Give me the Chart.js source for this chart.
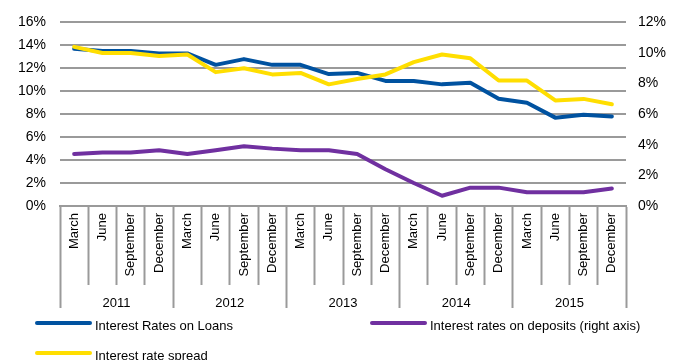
<!DOCTYPE html>
<html>
<head>
<meta charset="utf-8">
<script src="https://cdn.jsdelivr.net/npm/chart.js@4/dist/chart.umd.min.js"></script>
<style>
  html, body { margin: 0; padding: 0; background: #fff; }
  #wrap { width: 676px; height: 360px; position: relative; }
</style>
</head>
<body>
<div id="wrap"><canvas id="rates"></canvas></div>
<script>
const quarters = [
  "March", "June", "September", "December",
  "March", "June", "September", "December",
  "March", "June", "September", "December",
  "March", "June", "September", "December",
  "March", "June", "September", "December",
];
const years = ["2011", "2012", "2013", "2014", "2015"];

// left axis, %
const loans = [
  13.7, 13.5, 13.5, 13.3, 13.3, 12.3, 12.8, 12.3, 12.3, 11.5,
  11.6, 10.9, 10.9, 10.6, 10.75, 9.35, 9.0, 7.7, 7.95, 7.8,
];
// right axis, %
const deposits = [
  3.4, 3.5, 3.5, 3.65, 3.4, 3.65, 3.9, 3.75, 3.65, 3.65,
  3.4, 2.4, 1.5, 0.67, 1.2, 1.2, 0.9, 0.9, 0.9, 1.15,
];
const spread = [
  10.4, 10.0, 10.0, 9.8, 9.9, 8.75, 9.0, 8.6, 8.7, 7.95,
  8.3, 8.6, 9.4, 9.9, 9.65, 8.2, 8.2, 6.9, 7.0, 6.65,
];

const leftTicks = [0, 2, 4, 6, 8, 10, 12, 14, 16];
const rightTicks = [0, 2, 4, 6, 8, 10, 12];

const FONT = "'Liberation Sans', Arial, sans-serif";
const GRID = "#9a9a9a";
const BLUE = "#0052a0";
const PURPLE = "#7030a0";
const YELLOW = "#ffde00";

// legend laid out in two columns, drawn under the axis
const legendPlugin = {
  id: "sideLegend",
  afterDraw(chart) {
    const { ctx } = chart;
    const slots = [
      { ds: 0, x: 37, y: 323 },
      { ds: 1, x: 372, y: 323 },
      { ds: 2, x: 37, y: 353 },
    ];
    ctx.save();
    ctx.font = "13px " + FONT;
    ctx.textBaseline = "middle";
    ctx.fillStyle = "#000";
    ctx.lineCap = "round";
    slots.forEach((s) => {
      const ds = chart.data.datasets[s.ds];
      ctx.strokeStyle = ds.borderColor;
      ctx.lineWidth = 4;
      ctx.beginPath();
      ctx.moveTo(s.x, s.y);
      ctx.lineTo(s.x + 53, s.y);
      ctx.stroke();
      ctx.fillText(ds.label, s.x + 58, s.y + 3);
    });
    ctx.restore();
  },
};

new Chart(document.getElementById("rates"), {
  type: "line",
  data: {
    labels: quarters,
    datasets: [
      {
        label: "Interest Rates on Loans",
        data: loans,
        borderColor: BLUE,
        yAxisID: "y",
        order: 1,
      },
      {
        label: "Interest rates on deposits (right axis)",
        data: deposits,
        borderColor: PURPLE,
        yAxisID: "y1",
        order: 2,
      },
      {
        label: "Interest rate spread",
        data: spread,
        borderColor: YELLOW,
        yAxisID: "y1",
        order: 0,
      },
    ],
  },
  options: {
    responsive: true,
    maintainAspectRatio: false,
    animation: false,
    layout: { padding: { top: 22, bottom: 52, left: 0, right: 0 } },
    elements: {
      line: { borderWidth: 4, tension: 0, borderCapStyle: "round", borderJoinStyle: "round" },
      point: { radius: 0, hoverRadius: 0 },
    },
    plugins: {
      legend: { display: false },
      tooltip: { enabled: false },
    },
    scales: {
      x: {
        type: "category",
        position: "bottom",
        offset: true,
        grid: {
          offset: true,
          drawOnChartArea: false,
          tickLength: 79,
          tickColor: GRID,
          tickWidth: 2,
        },
        border: { display: true, color: GRID, width: 2 },
        ticks: {
          autoSkip: false,
          maxRotation: 90,
          minRotation: 90,
          padding: -72,
          color: "#000",
          font: { family: FONT, size: 13 },
        },
        afterFit(scale) { scale.height = 79; },
      },
      x2: {
        type: "category",
        position: "bottom",
        labels: years,
        offset: true,
        grid: {
          offset: true,
          drawOnChartArea: false,
          tickLength: 23,
          tickColor: GRID,
          tickWidth: 2,
        },
        border: { display: false },
        ticks: {
          padding: -12,
          color: "#000",
          font: { family: FONT, size: 13 },
        },
        afterFit(scale) { scale.height = 23; },
      },
      y: {
        position: "left",
        min: 0,
        max: 16,
        afterBuildTicks(scale) { scale.ticks = leftTicks.map((v) => ({ value: v })); },
        grid: { color: GRID, lineWidth: 2, drawTicks: false },
        border: { display: false },
        ticks: {
          padding: 14,
          color: "#000",
          font: { family: FONT, size: 14 },
          callback: (v) => v + "%",
        },
        afterFit(scale) { scale.width = 60; },
      },
      y1: {
        position: "right",
        min: 0,
        max: 12,
        afterBuildTicks(scale) { scale.ticks = rightTicks.map((v) => ({ value: v })); },
        grid: { drawOnChartArea: false, drawTicks: false },
        border: { display: false },
        ticks: {
          padding: 12,
          color: "#000",
          font: { family: FONT, size: 14 },
          callback: (v) => v + "%",
        },
        afterFit(scale) { scale.width = 50; },
      },
    },
  },
  plugins: [legendPlugin],
});
</script>
</body>
</html>
